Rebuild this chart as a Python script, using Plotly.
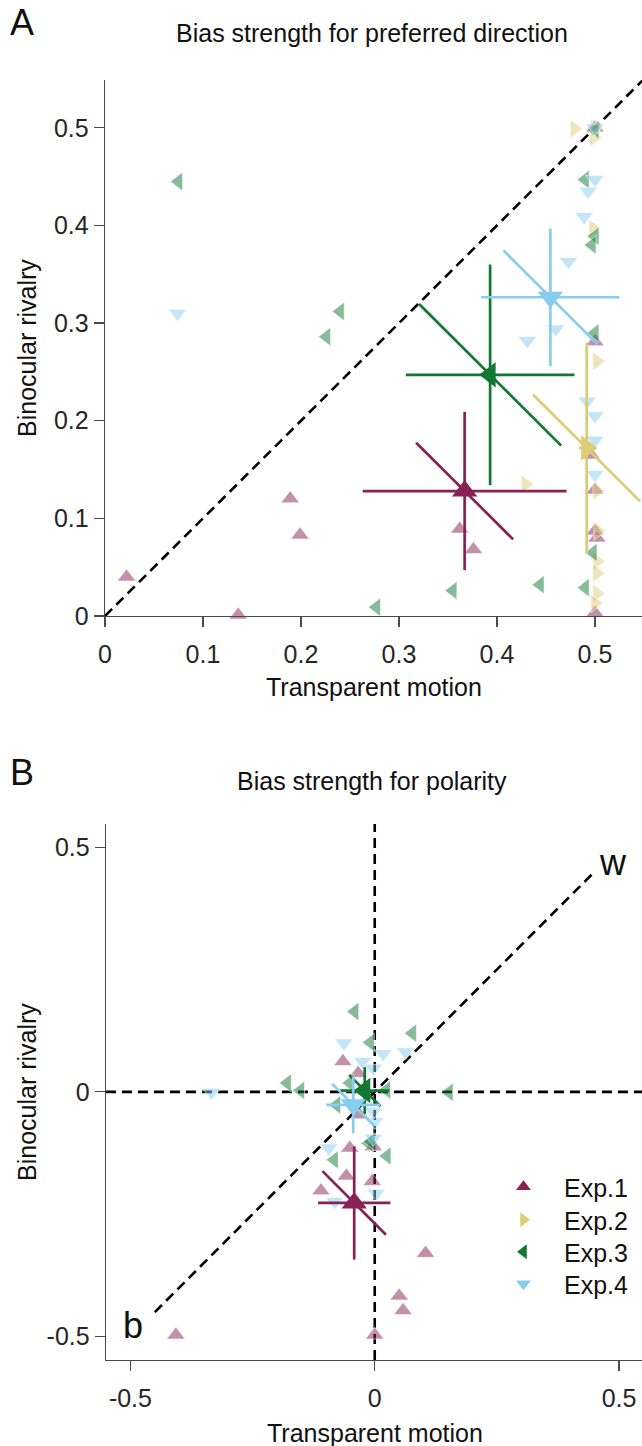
import plotly.graph_objects as go

W, H = 642, 1446

# ---------------- data ----------------
exp_names = ["Exp.1", "Exp.2", "Exp.3", "Exp.4"]
exp_colors = ["#882255", "#DDCC77", "#117733", "#88CCEE"]
exp_faded = ["rgba(136,34,85,0.5)", "rgba(221,204,119,0.5)", "rgba(17,119,51,0.5)", "rgba(136,204,238,0.5)"]
exp_symbols = ["triangle-up", "triangle-right", "triangle-left", "triangle-down"]

# Panel A: bias strength for preferred direction (individual observers)
dirA_x = [
    [0.022, 0.136, 0.189, 0.199, 0.362, 0.376, 0.500, 0.500, 0.500, 0.502, 0.496, 0.500, 0.500],
    [0.479, 0.500, 0.498, 0.502, 0.429, 0.502, 0.503, 0.502, 0.502, 0.502, 0.500, 0.499],
    [0.075, 0.240, 0.226, 0.277, 0.355, 0.444, 0.490, 0.498, 0.500, 0.500, 0.497, 0.490, 0.500],
    [0.074, 0.431, 0.460, 0.473, 0.489, 0.493, 0.500, 0.492, 0.500, 0.500, 0.500, 0.500],
]
dirA_y = [
    [0.040, 0.001, 0.120, 0.083, 0.089, 0.068, 0.003, 0.129, 0.087, 0.080, 0.165, 0.281, 0.500],
    [0.499, 0.500, 0.397, 0.261, 0.135, 0.128, 0.087, 0.056, 0.044, 0.023, 0.013, 0.490],
    [0.445, 0.312, 0.286, 0.009, 0.026, 0.032, 0.029, 0.065, 0.290, 0.389, 0.380, 0.447, 0.498],
    [0.310, 0.282, 0.294, 0.363, 0.409, 0.435, 0.447, 0.220, 0.205, 0.180, 0.145, 0.500],
]
# Panel A means and errors
dirA_mx = [0.367, 0.4915, 0.393, 0.4545]
dirA_my = [0.128, 0.172, 0.247, 0.3265]
dirA_ex = [0.104, 0.008, 0.086, 0.0705]
dirA_ey = [0.081, 0.108, 0.113, 0.0705]
dirA_ed = [0.0495, 0.0546, 0.0725, 0.048]

# Panel B: bias strength for polarity (Exp.2 has no data)
polB_x = [
    [-0.407, 0.000, 0.050, 0.058, 0.104, -0.058, -0.110, -0.005, -0.065, -0.034, -0.031, -0.051, -0.003],
    [],
    [-0.041, 0.077, -0.009, -0.179, -0.152, 0.152, 0.024, -0.078, -0.012, -0.083, 0.025, -0.007, -0.051],
    [-0.334, -0.063, 0.017, 0.063, -0.025, -0.003, -0.003, 0.000, -0.003, -0.094, 0.003, -0.082],
]
polB_y = [
    [-0.497, -0.497, -0.417, -0.447, -0.330, -0.172, -0.202, -0.183, 0.062, 0.038, -0.047, -0.115, -0.112],
    [],
    [0.164, 0.120, 0.101, 0.018, 0.003, -0.001, 0.004, -0.027, -0.105, -0.139, -0.131, -0.102, 0.018],
    [-0.001, 0.100, 0.078, 0.082, 0.062, 0.048, -0.040, -0.061, -0.095, -0.115, -0.207, -0.224],
]
polB_mx = [-0.042, None, -0.0205, -0.044]
polB_my = [-0.227, None, 0.0027, -0.0266]
polB_ex = [0.074, None, 0.050, 0.055]
polB_ey = [0.1157, None, 0.048, 0.058]
polB_ed = [0.065, None, 0.032, 0.043]

# ticks
A_ticks = [0, 0.1, 0.2, 0.3, 0.4, 0.5]
A_ticklabels = ["0", "0.1", "0.2", "0.3", "0.4", "0.5"]
B_ticks = [-0.5, 0, 0.5]
B_ticklabels = ["-0.5", "0", "0.5"]

FONT = "Liberation Sans, Arial, Helvetica, sans-serif"
AX = "#4a4a4a"
FS = 25

fig = go.Figure()


def add_panel(xs, ys, mx, my, ex, ey, ed, xa, ya):
    # individual observers
    for i in range(4):
        if not xs[i]:
            continue
        fig.add_trace(go.Scatter(
            x=xs[i], y=ys[i], mode="markers", xaxis=xa, yaxis=ya, showlegend=False,
            cliponaxis=False,
            marker=dict(symbol=exp_symbols[i], size=16, color=exp_faded[i],
                        line=dict(color="rgba(255,255,255,0.9)", width=0.6)),
            hoverinfo="skip"))
    # group means with error lines
    for i in range(4):
        if mx[i] is None:
            continue
        lx = [mx[i] - ex[i], mx[i] + ex[i], None, mx[i], mx[i], None,
              mx[i] - ed[i], mx[i] + ed[i]]
        ly = [my[i], my[i], None, my[i] - ey[i], my[i] + ey[i], None,
              my[i] + ed[i], my[i] - ed[i]]
        fig.add_trace(go.Scatter(
            x=lx, y=ly, mode="lines", xaxis=xa, yaxis=ya, showlegend=False,
            line=dict(color=exp_colors[i], width=2.7), hoverinfo="skip"))
        fig.add_trace(go.Scatter(
            x=[mx[i]], y=[my[i]], mode="markers", xaxis=xa, yaxis=ya, showlegend=False,
            cliponaxis=False,
            marker=dict(symbol=exp_symbols[i], size=22, color=exp_colors[i]),
            hoverinfo="skip"))


add_panel(dirA_x, dirA_y, dirA_mx, dirA_my, dirA_ex, dirA_ey, dirA_ed, "x", "y")
add_panel(polB_x, polB_y, polB_mx, polB_my, polB_ex, polB_ey, polB_ed, "x2", "y2")

# legend entries (one legend box per entry for exact spacing)
legend_ids = ["legend", "legend2", "legend3", "legend4"]
for i in range(4):
    fig.add_trace(go.Scatter(
        x=[None], y=[None], mode="markers", xaxis="x2", yaxis="y2", name=exp_names[i],
        legend=legend_ids[i],
        marker=dict(symbol=exp_symbols[i], size=13, color=exp_colors[i])))

dash = dict(color="black", width=2.6, dash="10px,6px")
# reference lines
fig.add_shape(type="line", xref="x", yref="y", x0=0, y0=0, x1=0.55, y1=0.55, line=dash, layer="below")
fig.add_shape(type="line", xref="x2", yref="y2", x0=-0.45, y0=-0.45, x1=0.45, y1=0.45, line=dash, layer="below")
fig.add_shape(type="line", xref="x2", yref="y2", x0=0, y0=-0.548, x1=0, y1=0.548, line=dash, layer="below")
fig.add_shape(type="line", xref="x2", yref="y2", x0=-0.55, y0=0, x1=0.548, y1=0, line=dash, layer="below")


def px(v):
    return v / W


def py(v):
    return 1 - v / H


axis_common = dict(showgrid=False, zeroline=False, showline=True, linecolor=AX, linewidth=1.3,
                   ticks="outside", ticklen=10, tickwidth=1.3, tickcolor=AX,
                   tickfont=dict(family=FONT, size=FS, color="#262626"), automargin=False)

leg_rows = [1187, 1220, 1252, 1284]
legends = {}
for i, lid in enumerate(legend_ids):
    legends[lid] = dict(x=px(483), y=py(leg_rows[i]), xanchor="left", yanchor="middle",
                        font=dict(family=FONT, size=FS, color="#111111"), bgcolor="rgba(0,0,0,0)",
                        itemsizing="trace", itemwidth=71)

fig.update_layout(
    width=W, height=H, margin=dict(l=0, r=0, t=0, b=0),
    paper_bgcolor="white", plot_bgcolor="white",
    xaxis=dict(domain=[px(105), 1], range=[0, 0.548], tickvals=A_ticks, ticktext=A_ticklabels,
               anchor="y", ticklabelstandoff=6, **axis_common),
    yaxis=dict(domain=[py(616), py(80)], range=[0, 0.549], tickvals=A_ticks, ticktext=A_ticklabels,
               anchor="x", ticklabelstandoff=0, **axis_common),
    xaxis2=dict(domain=[px(106), 1], range=[-0.55, 0.547], tickvals=B_ticks, ticktext=B_ticklabels,
                anchor="y2", ticklabelstandoff=6, **axis_common),
    yaxis2=dict(domain=[py(1360), py(824)], range=[-0.548, 0.5474], tickvals=B_ticks, ticktext=B_ticklabels,
                anchor="x2", ticklabelstandoff=0, **axis_common),
    showlegend=True,
    **legends,
)

anns = [
    dict(text="A", x=px(8), y=py(23), size=36, xanchor="left"),
    dict(text="Bias strength for preferred direction", x=px(372), y=py(33), size=FS),
    dict(text="Transparent motion", x=px(374), y=py(687), size=FS),
    dict(text="Binocular rivalry", x=px(27), y=py(348), size=FS, angle=-90),
    dict(text="B", x=px(8), y=py(772), size=36, xanchor="left"),
    dict(text="Bias strength for polarity", x=px(372), y=py(781), size=FS),
    dict(text="Transparent motion", x=px(375), y=py(1433), size=FS),
    dict(text="Binocular rivalry", x=px(27), y=py(1092), size=FS, angle=-90),
    dict(text="w", x=px(613), y=py(862), size=36),
    dict(text="b", x=px(133), y=py(1325), size=36),
]
for a in anns:
    fig.add_annotation(text=a["text"], x=a["x"], y=a["y"], xref="paper", yref="paper",
                       showarrow=False, xanchor=a.get("xanchor", "center"), yanchor="middle",
                       textangle=a.get("angle", 0),
                       font=dict(family=FONT, size=a["size"], color="#111111"))

fig.write_html("out.html", config={"displayModeBar": False, "staticPlot": True},
               post_script="document.body.style.margin='0px';document.body.style.overflow='hidden';")
